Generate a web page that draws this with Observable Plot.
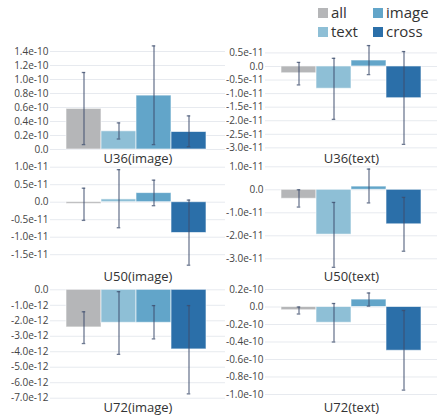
<!DOCTYPE html>
<html><head><meta charset="utf-8">
<script src="https://cdn.jsdelivr.net/npm/d3@7"></script>
<script src="https://cdn.jsdelivr.net/npm/@observablehq/plot@0.6"></script>
<style>
body{margin:0;background:#fff;font-family:"Open Sans",sans-serif;}
#wrap{position:relative;width:437px;height:420px;overflow:hidden;}
.panel{position:absolute;}
.leg{position:absolute;font-size:15px;color:#333;display:flex;align-items:center;line-height:1;}
.leg .sw{display:inline-block;width:10px;height:10px;margin-right:3px;}
</style></head><body><div id="wrap"></div><script>
// ---- data ----
const series = ["all", "text", "image", "cross"];
const colors = ["#b5b6b8", "#8ebfd6", "#62a5c9", "#2b6fa9"];
const legendOrder = ["all", "image", "text", "cross"];
const panels = ["U36(image)", "U36(text)", "U50(image)", "U50(text)", "U72(image)", "U72(text)"];

const meanU36img = [0.58e-10, 0.26e-10, 0.77e-10, 0.25e-10];
const loU36img   = [0.07e-10, 0.15e-10, 0.07e-10, 0.04e-10];
const hiU36img   = [1.10e-10, 0.38e-10, 1.48e-10, 0.48e-10];

const meanU36txt = [-0.25e-11, -0.82e-11, 0.22e-11, -1.17e-11];
const loU36txt   = [-0.68e-11, -1.95e-11, -0.30e-11, -2.87e-11];
const hiU36txt   = [0.15e-11, 0.30e-11, 0.77e-11, 0.55e-11];

const meanU50img = [-0.05e-11, 0.08e-11, 0.26e-11, -0.88e-11];
const loU50img   = [-0.52e-11, -0.73e-11, -0.10e-11, -1.80e-11];
const hiU50img   = [0.40e-11, 0.93e-11, 0.63e-11, 0.06e-11];

const meanU50txt = [-0.39e-11, -1.95e-11, 0.14e-11, -1.50e-11];
const loU50txt   = [-0.75e-11, -3.37e-11, -0.57e-11, -2.67e-11];
const hiU50txt   = [0.0, -0.55e-11, 0.90e-11, -0.33e-11];

const meanU72img = [-2.43e-12, -2.13e-12, -2.13e-12, -3.85e-12];
const loU72img   = [-3.47e-12, -4.17e-12, -3.17e-12, -6.72e-12];
const hiU72img   = [-1.42e-12, -0.12e-12, -1.02e-12, -1.02e-12];

const meanU72txt = [-0.037e-10, -0.18e-10, 0.085e-10, -0.50e-10];
const loU72txt   = [-0.08e-10, -0.40e-10, 0.01e-10, -0.95e-10];
const hiU72txt   = [0.0, 0.04e-10, 0.16e-10, -0.04e-10];

const tickU36img = [0, 0.2, 0.4, 0.6, 0.8, 1.0, 1.2, 1.4];
const tickU36txt = [-3.0, -2.5, -2.0, -1.5, -1.0, -0.5, 0, 0.5];
const tickU50img = [-1.5, -1.0, -0.5, 0, 0.5, 1.0];
const tickU50txt = [-3.0, -2.0, -1.0, 0, 1.0];
const tickU72img = [-7, -6, -5, -4, -3, -2, -1, 0];
const tickU72txt = [-1.0, -0.8, -0.6, -0.4, -0.2, 0, 0.2];

const exps = [-10, -11, -11, -11, -12, -10];
const means = [meanU36img, meanU36txt, meanU50img, meanU50txt, meanU72img, meanU72txt];
const los = [loU36img, loU36txt, loU50img, loU50txt, loU72img, loU72txt];
const his = [hiU36img, hiU36txt, hiU50img, hiU50txt, hiU72img, hiU72txt];
const tickVals = [tickU36img, tickU36txt, tickU50img, tickU50txt, tickU72img, tickU72txt];

// ---- layout ----
const yDomains = [[0, 1.5e-10], [-3.06e-11, 0.81e-11], [-1.866e-11, 1.02e-11], [-3.378e-11, 1.013e-11], [-7.02e-12, 0.15e-12], [-1.046e-10, 0.223e-10]];
const rowPlot = [[44, 149], [166, 267], [287, 398]];
const cols = [{left: 0, width: 225, ml: 50, il: 15, ir: 18}, {left: 225, width: 212, ml: 40, il: 15, ir: 15}];
const mt = 6, mb = 20;
const errColor = "#3d4d6e";

const wrap = document.getElementById("wrap");

panels.forEach((name, i) => {
  const row = Math.floor(i / 2), col = cols[i % 2];
  const [pt, pb] = rowPlot[row];
  const e = exps[i];
  const k = Math.pow(10, e);
  const data = series.map((s, j) => ({series: s, mean: means[i][j], lo: los[i][j], hi: his[i][j]}));
  const fmt = v => {
    const u = v / k;
    if (Math.abs(u) < 1e-9) return "0.0";
    return u.toFixed(1) + "e" + e;
  };
  const capInset = ((col.width - col.ml - col.il - col.ir) / 4 - 4) / 2;
  const chart = Plot.plot({
    width: col.width,
    height: (pb - pt) + mt + mb,
    marginTop: mt, marginBottom: mb, marginLeft: col.ml, marginRight: 0,
    style: {background: "transparent", fontFamily: "Open Sans", overflow: "visible"},
    x: {type: "band", domain: series, padding: 0, insetLeft: col.il, insetRight: col.ir, axis: null},
    y: {domain: yDomains[i], axis: null},
    color: {domain: series, range: colors},
    marks: [
      Plot.gridY(tickVals[i].map(t => t * k), {stroke: "#e7eaef", strokeOpacity: 1, strokeWidth: 1}),
      Plot.axisY(tickVals[i].map(t => t * k), {tickSize: 0, tickPadding: 2, tickFormat: fmt, fontSize: 10, fill: "#444"}),
      Plot.barY(data, {x: "series", y1: 0, y2: "mean", fill: "series", stroke: "#fff", strokeOpacity: 0.6, strokeWidth: 1}),
      Plot.ruleX(data, {x: "series", y1: "lo", y2: "hi", stroke: errColor, strokeOpacity: 0.75, strokeWidth: 1.3}),
      Plot.tickY(data, {x: "series", y: "lo", stroke: errColor, strokeOpacity: 0.75, strokeWidth: 1.3, insetLeft: capInset, insetRight: capInset}),
      Plot.tickY(data, {x: "series", y: "hi", stroke: errColor, strokeOpacity: 0.75, strokeWidth: 1.3, insetLeft: capInset, insetRight: capInset}),
      Plot.text([name], {text: d => d, frameAnchor: "bottom", lineAnchor: "middle", dy: 9, fontSize: 13, fill: "#333"})
    ]
  });
  chart.classList.add("panel");
  chart.style.left = col.left + "px";
  chart.style.top = (pt - mt) + "px";
  chart.style.maxWidth = "none";
  wrap.appendChild(chart);
});

// legend
const legPos = [[318, 7], [373, 7], [318, 26], [373, 26]];
legendOrder.forEach((s, j) => {
  const d = document.createElement("div");
  d.className = "leg";
  d.style.left = legPos[j][0] + "px";
  d.style.top = (legPos[j][1] - 2) + "px";
  const sw = document.createElement("span");
  sw.className = "sw";
  sw.style.background = colors[series.indexOf(s)];
  d.appendChild(sw);
  d.appendChild(document.createTextNode(s));
  wrap.appendChild(d);
});
</script></body></html>
